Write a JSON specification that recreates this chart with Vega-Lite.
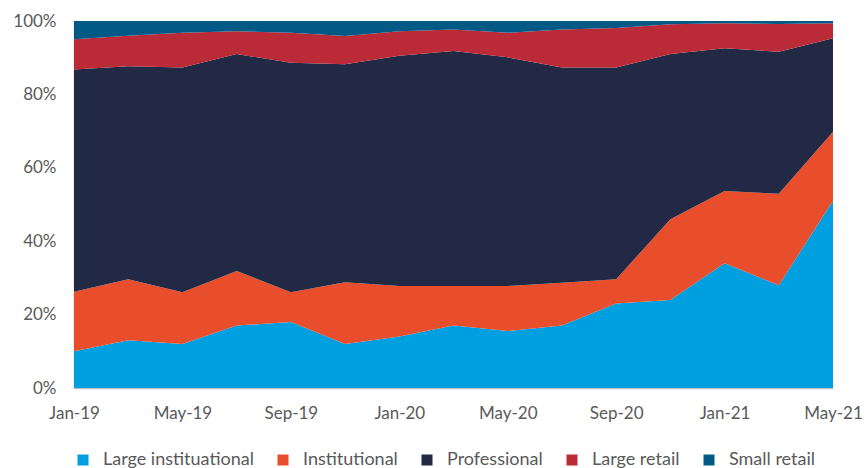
{
  "$schema": "https://vega.github.io/schema/vega-lite/v6.json",
  "width": 759,
  "height": 367,
  "autosize": {"type": "none"},
  "padding": {"left": 74, "top": 21, "right": 32, "bottom": 80},
  "background": "#ffffff",
  "config": {"view": {"stroke": null}, "font": "Lato"},
  "data": {"values": [
    {"month":"Jan-19","segment":"Large instituational","rank":1,"share":10},
    {"month":"Jan-19","segment":"Institutional","rank":2,"share":16.2},
    {"month":"Jan-19","segment":"Professional","rank":3,"share":60.6},
    {"month":"Jan-19","segment":"Large retail","rank":4,"share":8.2},
    {"month":"Jan-19","segment":"Small retail","rank":5,"share":5.0},
    {"month":"Mar-19","segment":"Large instituational","rank":1,"share":13},
    {"month":"Mar-19","segment":"Institutional","rank":2,"share":16.6},
    {"month":"Mar-19","segment":"Professional","rank":3,"share":58.1},
    {"month":"Mar-19","segment":"Large retail","rank":4,"share":8.3},
    {"month":"Mar-19","segment":"Small retail","rank":5,"share":4.0},
    {"month":"May-19","segment":"Large instituational","rank":1,"share":12},
    {"month":"May-19","segment":"Institutional","rank":2,"share":14.1},
    {"month":"May-19","segment":"Professional","rank":3,"share":61.2},
    {"month":"May-19","segment":"Large retail","rank":4,"share":9.5},
    {"month":"May-19","segment":"Small retail","rank":5,"share":3.2},
    {"month":"Jul-19","segment":"Large instituational","rank":1,"share":17},
    {"month":"Jul-19","segment":"Institutional","rank":2,"share":14.9},
    {"month":"Jul-19","segment":"Professional","rank":3,"share":59.1},
    {"month":"Jul-19","segment":"Large retail","rank":4,"share":6.2},
    {"month":"Jul-19","segment":"Small retail","rank":5,"share":2.8},
    {"month":"Sep-19","segment":"Large instituational","rank":1,"share":18},
    {"month":"Sep-19","segment":"Institutional","rank":2,"share":8.1},
    {"month":"Sep-19","segment":"Professional","rank":3,"share":62.5},
    {"month":"Sep-19","segment":"Large retail","rank":4,"share":8.2},
    {"month":"Sep-19","segment":"Small retail","rank":5,"share":3.2},
    {"month":"Nov-19","segment":"Large instituational","rank":1,"share":12},
    {"month":"Nov-19","segment":"Institutional","rank":2,"share":16.8},
    {"month":"Nov-19","segment":"Professional","rank":3,"share":59.4},
    {"month":"Nov-19","segment":"Large retail","rank":4,"share":7.7},
    {"month":"Nov-19","segment":"Small retail","rank":5,"share":4.1},
    {"month":"Jan-20","segment":"Large instituational","rank":1,"share":14},
    {"month":"Jan-20","segment":"Institutional","rank":2,"share":13.8},
    {"month":"Jan-20","segment":"Professional","rank":3,"share":62.7},
    {"month":"Jan-20","segment":"Large retail","rank":4,"share":6.7},
    {"month":"Jan-20","segment":"Small retail","rank":5,"share":2.8},
    {"month":"Mar-20","segment":"Large instituational","rank":1,"share":17},
    {"month":"Mar-20","segment":"Institutional","rank":2,"share":10.8},
    {"month":"Mar-20","segment":"Professional","rank":3,"share":64.0},
    {"month":"Mar-20","segment":"Large retail","rank":4,"share":5.9},
    {"month":"Mar-20","segment":"Small retail","rank":5,"share":2.3},
    {"month":"May-20","segment":"Large instituational","rank":1,"share":15.5},
    {"month":"May-20","segment":"Institutional","rank":2,"share":12.3},
    {"month":"May-20","segment":"Professional","rank":3,"share":62.3},
    {"month":"May-20","segment":"Large retail","rank":4,"share":6.7},
    {"month":"May-20","segment":"Small retail","rank":5,"share":3.2},
    {"month":"Jul-20","segment":"Large instituational","rank":1,"share":17},
    {"month":"Jul-20","segment":"Institutional","rank":2,"share":11.7},
    {"month":"Jul-20","segment":"Professional","rank":3,"share":58.6},
    {"month":"Jul-20","segment":"Large retail","rank":4,"share":10.4},
    {"month":"Jul-20","segment":"Small retail","rank":5,"share":2.3},
    {"month":"Sep-20","segment":"Large instituational","rank":1,"share":23},
    {"month":"Sep-20","segment":"Institutional","rank":2,"share":6.6},
    {"month":"Sep-20","segment":"Professional","rank":3,"share":57.7},
    {"month":"Sep-20","segment":"Large retail","rank":4,"share":10.8},
    {"month":"Sep-20","segment":"Small retail","rank":5,"share":1.9},
    {"month":"Nov-20","segment":"Large instituational","rank":1,"share":24},
    {"month":"Nov-20","segment":"Institutional","rank":2,"share":22.0},
    {"month":"Nov-20","segment":"Professional","rank":3,"share":45.0},
    {"month":"Nov-20","segment":"Large retail","rank":4,"share":8.1},
    {"month":"Nov-20","segment":"Small retail","rank":5,"share":0.9},
    {"month":"Jan-21","segment":"Large instituational","rank":1,"share":34},
    {"month":"Jan-21","segment":"Institutional","rank":2,"share":19.7},
    {"month":"Jan-21","segment":"Professional","rank":3,"share":38.9},
    {"month":"Jan-21","segment":"Large retail","rank":4,"share":6.8},
    {"month":"Jan-21","segment":"Small retail","rank":5,"share":0.6},
    {"month":"Mar-21","segment":"Large instituational","rank":1,"share":28},
    {"month":"Mar-21","segment":"Institutional","rank":2,"share":24.9},
    {"month":"Mar-21","segment":"Professional","rank":3,"share":38.7},
    {"month":"Mar-21","segment":"Large retail","rank":4,"share":7.6},
    {"month":"Mar-21","segment":"Small retail","rank":5,"share":0.8},
    {"month":"May-21","segment":"Large instituational","rank":1,"share":51},
    {"month":"May-21","segment":"Institutional","rank":2,"share":18.8},
    {"month":"May-21","segment":"Professional","rank":3,"share":25.5},
    {"month":"May-21","segment":"Large retail","rank":4,"share":4.1},
    {"month":"May-21","segment":"Small retail","rank":5,"share":0.6}
  ]},
  "mark": {"type": "area", "interpolate": "linear"},
  "encoding": {
    "x": {
      "field": "month", "type": "ordinal", "sort": null,
      "scale": {"type": "point", "padding": 0},
      "axis": {
        "title": null, "labelAngle": 0, "ticks": false,
        "values": ["Jan-19","May-19","Sep-19","Jan-20","May-20","Sep-20","Jan-21","May-21"],
        "domainColor": "#BFBFBF", "domainWidth": 1.5,
        "labelColor": "#595959", "labelFontSize": 17, "labelPadding": 17, "grid": false
      }
    },
    "y": {
      "field": "share", "type": "quantitative", "stack": "normalize",
      "scale": {"domain": [0, 1]},
      "axis": {
        "title": null, "format": ".0%", "values": [0, 0.2, 0.4, 0.6, 0.8, 1],
        "ticks": false, "grid": false, "domainColor": "#BFBFBF", "domainWidth": 1.5,
        "labelColor": "#595959", "labelFontSize": 17, "labelPadding": 18
      }
    },
    "order": {"field": "rank", "type": "quantitative", "sort": "ascending"},
    "color": {
      "field": "segment", "type": "nominal",
      "scale": {
        "domain": ["Large instituational","Institutional","Professional","Large retail","Small retail"],
        "range": ["#009FDF","#E84E2C","#212944","#BA2A37","#005A85"]
      },
      "legend": {
        "title": null, "orient": "none", "direction": "horizontal",
        "legendX": 0, "legendY": 430,
        "symbolType": "square", "symbolSize": 121, "symbolStrokeWidth": 0,
        "labelFontSize": 18, "labelColor": "#595959", "labelOffset": 11,
        "columnPadding": 20, "labelLimit": 300
      }
    }
  }
}
